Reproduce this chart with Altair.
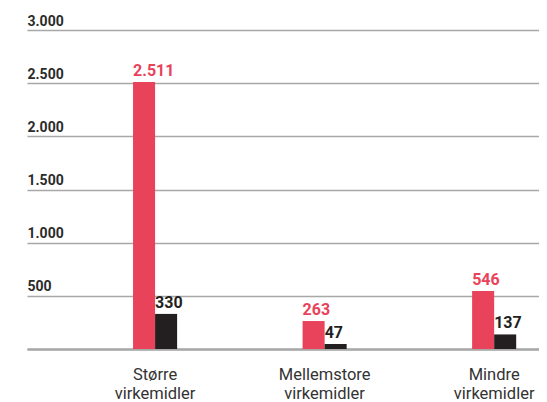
import altair as alt
import pandas as pd

categories = ["Større virkemidler", "Mellemstore virkemidler", "Mindre virkemidler"]
series = ["Serie 1", "Serie 2"]
values_red = [2511, 263, 546]
values_black = [330, 47, 137]
y_ticks = [0, 500, 1000, 1500, 2000, 2500, 3000]

rows = []
for c, r, b in zip(categories, values_red, values_black):
    rows.append({"kategori": c, "serie": series[0], "verdi": r})
    rows.append({"kategori": c, "serie": series[1], "verdi": b})
df = pd.DataFrame(rows)

FONT = "Roboto"
RED = "#E8435A"
BLACK = "#231F20"
GRID = "#a8a8a8"

color_scale = alt.Scale(domain=series, range=[RED, BLACK])

x = alt.X(
    "kategori:N",
    sort=categories,
    scale=alt.Scale(paddingInner=0.74, paddingOuter=0.38, align=0.823),
    axis=alt.Axis(
        title=None,
        labelExpr="split(datum.value, ' ')",
        labelAngle=0,
        labelFont=FONT,
        labelFontSize=16.5,
        labelColor="#333333",
        labelLineHeight=19,
        labelPadding=17,
        labelBaseline="top",
        ticks=False,
        domain=True,
        domainColor=GRID,
        domainWidth=2.5,
        grid=False,
    ),
)
xo = alt.XOffset("serie:N", sort=series, scale=alt.Scale(paddingInner=0, paddingOuter=0))
y = alt.Y(
    "verdi:Q",
    scale=alt.Scale(domain=[0, 3000], nice=False),
    axis=alt.Axis(
        title=None,
        values=y_ticks,
        labelExpr="datum.value == 0 ? '' : replace(format(datum.value, ','), ',', '.')",
        labelAlign="left",
        labelBaseline="alphabetic",
        labelPadding=0,
        labelOffset=-5,
        labelFont=FONT,
        labelFontSize=14,
        labelFontWeight="bold",
        labelColor="#2b2b2b",
        ticks=False,
        domain=False,
        grid=True,
        gridColor=GRID,
        gridWidth=1.5,
    ),
)
color = alt.Color("serie:N", scale=color_scale, legend=None)

base = alt.Chart(df).transform_calculate(
    label="replace(format(datum.verdi, ','), ',', '.')"
)

bars = base.mark_bar().encode(x=x, xOffset=xo, y=y, color=color)
text = base.mark_text(
    align="left", baseline="alphabetic", dx=-11, dy=-6,
    font=FONT, fontSize=16, fontWeight="bold"
).encode(x=x, xOffset=xo, y=alt.Y("verdi:Q"), text="label:N", color=color)

chart = alt.layer(bars, text).properties(
    width=512,
    height=319,
    autosize=alt.AutoSizeParams(type="none"),
    padding={"left": 19, "top": 22, "right": 0, "bottom": 60},
).configure_view(stroke=None)

chart.save("out.html", embed_options={"renderer": "svg", "actions": False})
